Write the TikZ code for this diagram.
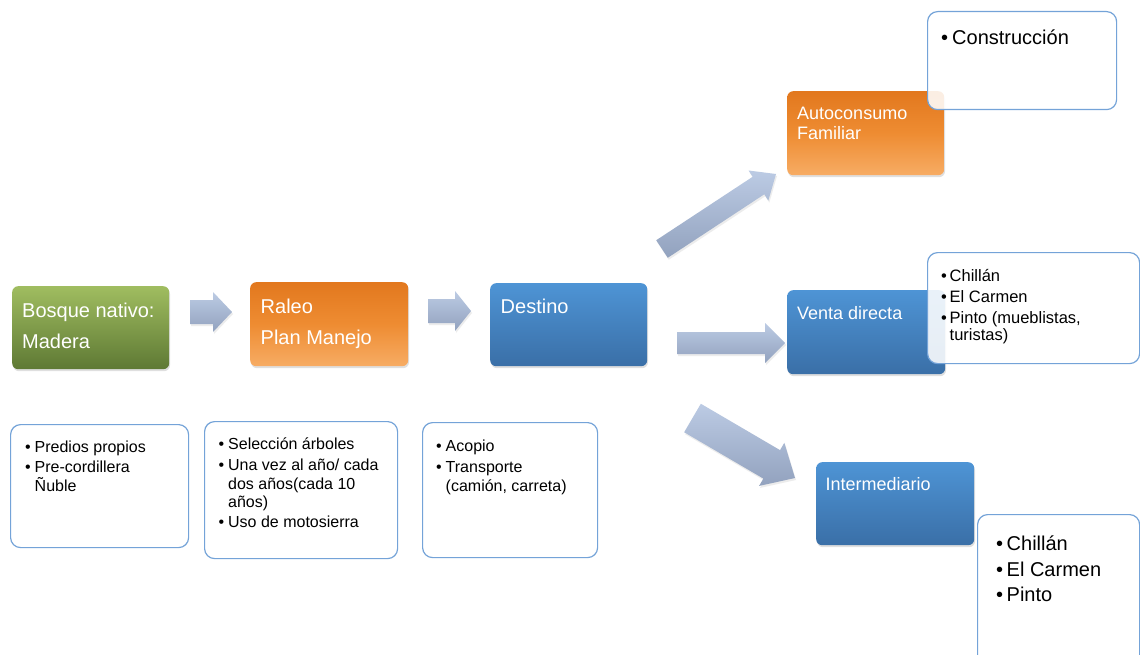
\documentclass[tikz,border=0pt]{standalone}
\usepackage{fontspec}
\setmainfont{Liberation Sans}
\usetikzlibrary{calc,shadows}
\definecolor{grT}{RGB}{160,189,96}
\definecolor{grB}{RGB}{94,121,52}
\definecolor{orT}{RGB}{226,120,30}
\definecolor{orM}{RGB}{238,140,50}
\definecolor{orB}{RGB}{247,172,100}
\definecolor{blT}{RGB}{78,148,213}
\definecolor{blB}{RGB}{58,111,167}
\definecolor{cbd}{RGB}{116,163,216}
\definecolor{arT}{RGB}{188,203,228}
\definecolor{arB}{RGB}{146,162,190}
\newcommand{\bu}{\makebox[9.5pt][l]{\textbullet}}
\newcommand{\ftbig}{\fontsize{20}{23}\selectfont}
\newcommand{\ftmid}{\fontsize{18}{21}\selectfont}
\newcommand{\ftlist}{\fontsize{16}{19}\selectfont}
\newcommand{\ftven}{\fontsize{16.5}{19}\selectfont}
\newcommand{\ftcon}{\fontsize{20}{23}\selectfont}
\newcommand{\barrow}[5]{%
  \coordinate (#1m) at ($(#2)!#5!(#1)$);
  \shade[arrowfill] ($(#1)!#3!90:(#2)$) -- ($(#1m)!#3!90:(#2)$) -- ($(#1m)!#4!90:(#2)$) -- (#2)
    -- ($(#1m)!#4!-90:(#2)$) -- ($(#1m)!#3!-90:(#2)$) -- ($(#1)!#3!-90:(#2)$) -- cycle;}
\tikzset{
  colbox/.style={rectangle, rounded corners=6pt, inner sep=0pt, anchor=north west,
    drop shadow={opacity=0.25, shadow xshift=0.8pt, shadow yshift=-2pt}},
  gbox/.style={colbox, top color=grT, bottom color=grB},
  obox/.style={colbox, top color=orT, bottom color=orB, middle color=orM},
  bbox/.style={colbox, top color=blT, bottom color=blB},
  callout/.style={rectangle, rounded corners=10pt, draw=cbd, line width=1.2pt, fill=white,
    fill opacity=0.88, anchor=north west, inner sep=0pt},
  lbox/.style={rectangle, rounded corners=10pt, draw=cbd, line width=1.2pt, fill=white,
    anchor=north west, inner sep=0pt},
  wtxt/.style={anchor=base west, inner sep=0pt, text=white},
  ktxt/.style={anchor=base west, inner sep=0pt, text=black},
  arrowfill/.style={top color=arT, bottom color=arB,
    drop shadow={opacity=0.15, shadow xshift=1pt, shadow yshift=-2pt}},
}
\begin{document}
\begin{tikzpicture}[x=1pt, y=-1pt]
\path[use as bounding box, fill=white] (0,0) rectangle (1140,655);
\clip (0,0) rectangle (1140,655);

% colored boxes
\node[gbox, minimum width=157pt, minimum height=83pt] (b1) at (12,286) {};
\node[obox, minimum width=158pt, minimum height=84pt] (b2) at (250,282) {};
\node[bbox, minimum width=157pt, minimum height=83pt] (b3) at (490,283) {};
\node[obox, minimum width=157pt, minimum height=84pt] (b4) at (787,91) {};
\node[bbox, minimum width=158pt, minimum height=84pt] (b5) at (787,290) {};
\node[bbox, minimum width=158pt, minimum height=83pt] (b6) at (816,462) {};

\node[wtxt, font=\ftbig] (t1a) at (22,317) {Bosque nativo:};
\node[wtxt, font=\ftbig] (t1b) at (22,348) {Madera};
\node[wtxt, font=\ftbig] (t2a) at (260.5,313) {Raleo};
\node[wtxt, font=\ftbig] (t2b) at (260.5,344) {Plan Manejo};
\node[wtxt, font=\ftbig] (t3a) at (500.5,313) {Destino};
\node[wtxt, font=\ftmid] (t4a) at (797,120) {Autoconsumo};
\node[wtxt, font=\ftmid] (t4b) at (797,140) {Familiar};
\node[wtxt, font=\ftmid] (t5a) at (797,319) {Venta directa};
\node[wtxt, font=\ftmid] (t6a) at (825.5,490) {Intermediario};

% block arrows
\coordinate (a1s) at (190,312); \coordinate (a1e) at (232,312);
\coordinate (a2s) at (428,311); \coordinate (a2e) at (471,311);
\coordinate (a3s) at (677,343); \coordinate (a3e) at (785,343);
\coordinate (a4s) at (662,249); \coordinate (a4e) at (776,174);
\coordinate (a5s) at (692.5,418); \coordinate (a5e) at (795,478);
\barrow{a1s}{a1e}{12pt}{20pt}{19pt}
\barrow{a2s}{a2e}{12pt}{20pt}{16pt}
\barrow{a3s}{a3e}{11pt}{20pt}{20pt}
\barrow{a4s}{a4e}{10.5pt}{18pt}{21pt}
\barrow{a5s}{a5e}{16.5pt}{25pt}{27pt}

% lower list boxes
\node[lbox, minimum width=178pt, minimum height=123pt] (l1) at (10,424) {};
\node[ktxt, font=\ftlist] (l1a) at (25,452) {\bu Predios propios};
\node[ktxt, font=\ftlist] (l1b) at (25,472) {\bu Pre-cordillera};
\node[ktxt, font=\ftlist] (l1c) at (34.5,491) {Ñuble};

\node[lbox, minimum width=193pt, minimum height=137pt] (l2) at (204,421) {};
\node[ktxt, font=\ftlist] (l2a) at (218.5,449) {\bu Selección árboles};
\node[ktxt, font=\ftlist] (l2b) at (218.5,470) {\bu Una vez al año/ cada};
\node[ktxt, font=\ftlist] (l2c) at (228,489) {dos años(cada 10};
\node[ktxt, font=\ftlist] (l2d) at (228,507) {años)};
\node[ktxt, font=\ftlist] (l2e) at (218.5,527) {\bu Uso de motosierra};

\node[lbox, minimum width=175pt, minimum height=135pt] (l3) at (422,422) {};
\node[ktxt, font=\ftlist] (l3a) at (436,451) {\bu Acopio};
\node[ktxt, font=\ftlist] (l3b) at (436,472) {\bu Transporte};
\node[ktxt, font=\ftlist] (l3c) at (445.5,491) {(camión, carreta)};

% right callouts
\node[callout, minimum width=189pt, minimum height=98pt] (c1) at (927,11) {};
\node[ktxt, font=\ftcon] (c1a) at (941,45) {\makebox[11pt][l]{\textbullet}Construcción};

\node[callout, minimum width=212pt, minimum height=111pt] (c2) at (927,252) {};
\node[ktxt, font=\ftven] (c2a) at (941,281) {\makebox[8.5pt][l]{\textbullet}Chillán};
\node[ktxt, font=\ftven] (c2b) at (941,302) {\makebox[8.5pt][l]{\textbullet}El Carmen};
\node[ktxt, font=\ftven] (c2c) at (941,323) {\makebox[8.5pt][l]{\textbullet}Pinto (mueblistas,};
\node[ktxt, font=\ftven] (c2d) at (949.5,340) {turistas)};

\node[callout, minimum width=162pt, minimum height=180pt] (c3) at (977,514) {};
\node[ktxt, font=\ftcon] (c3a) at (996,550) {\makebox[10.5pt][l]{\textbullet}Chillán};
\node[ktxt, font=\ftcon] (c3b) at (996,576) {\makebox[10.5pt][l]{\textbullet}El Carmen};
\node[ktxt, font=\ftcon] (c3c) at (996,601) {\makebox[10.5pt][l]{\textbullet}Pinto};
\end{tikzpicture}
\end{document}
